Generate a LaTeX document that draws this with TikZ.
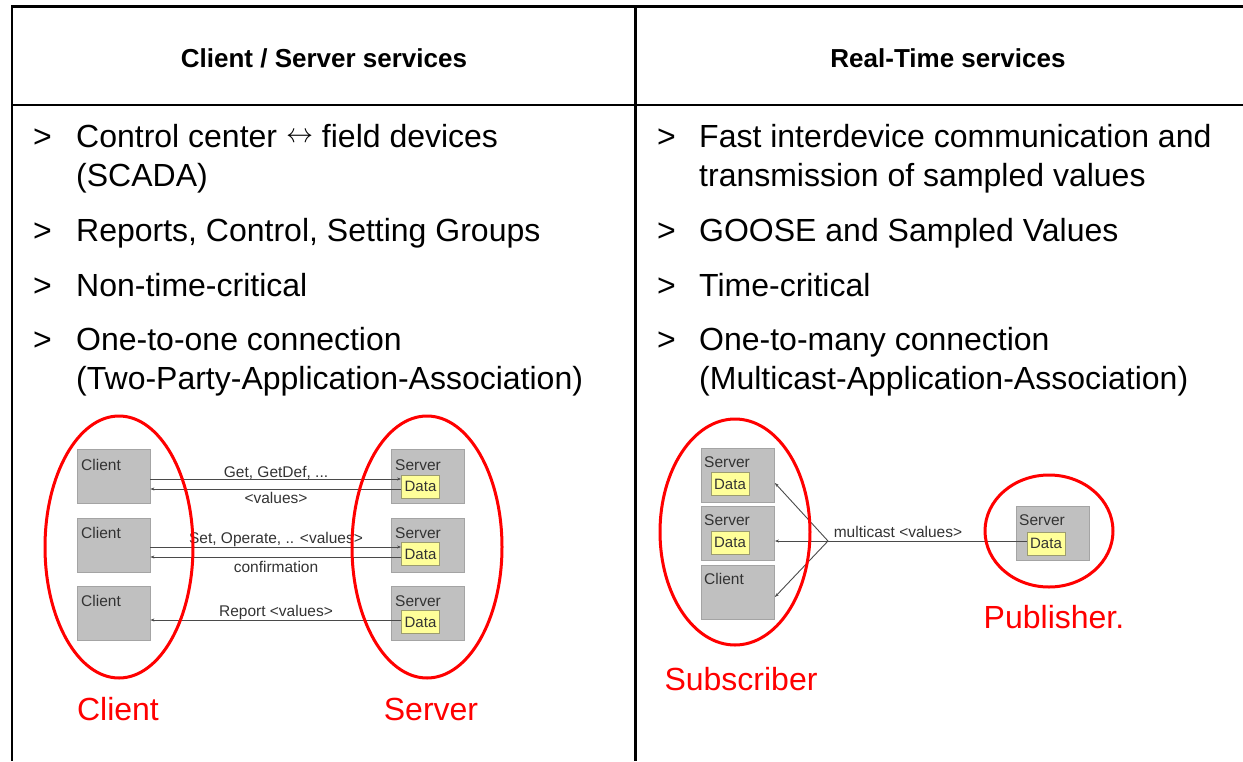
\documentclass[tikz,border=0pt]{standalone}
\usepackage{graphicx}
\usepackage{fontspec}
\setmainfont{Liberation Sans}
\usetikzlibrary{arrows.meta}
\definecolor{boxgray}{HTML}{C0C0C0}
\definecolor{boxedge}{HTML}{A4A4A4}
\definecolor{datafill}{HTML}{FFFF99}
\definecolor{dataedge}{HTML}{9C9C70}
\definecolor{linegray}{HTML}{4A4A4A}
\definecolor{txtgray}{HTML}{333333}
\definecolor{redmark}{HTML}{FF0000}
\newcommand{\lrarrowsym}{\raisebox{5pt}{\resizebox{27pt}{!}{$\leftrightarrow$}}}
\tikzset{
  tabline/.style={line width=2.3pt, black},
  headtxt/.style={font=\fontsize{26}{30}\selectfont\bfseries, anchor=base},
  bultxt/.style={font=\fontsize{32}{38}\selectfont, anchor=base west, inner sep=0pt},
  devbox/.style={draw=boxedge, fill=boxgray, line width=0.8pt, minimum width=73pt, minimum height=54pt, inner sep=0pt},
  databox/.style={draw=dataedge, fill=datafill, line width=0.8pt, minimum width=38pt, minimum height=23pt, inner sep=0pt, font=\fontsize{15}{17}\selectfont, text=txtgray},
  boxlbl/.style={font=\fontsize{15.5}{17}\selectfont, text=txtgray, anchor=base west, inner sep=0pt},
  msg/.style={font=\fontsize{15.5}{17}\selectfont, text=txtgray, anchor=base, inner sep=0pt},
  arr/.style={linegray, line width=0.9pt, -{Stealth[length=4pt,width=3pt]}},
  conn/.style={linegray, line width=0.9pt},
  ring/.style={draw=redmark, line width=3pt},
  redlbl/.style={font=\fontsize{32}{38}\selectfont, text=redmark, anchor=base, inner sep=0pt}
}
\begin{document}
\begin{tikzpicture}[x=1pt,y=-1pt]
\useasboundingbox (0,0) rectangle (1243,761);
% table
\draw[tabline] (12.2,6.5) -- (1243,6.5);
\draw[tabline] (12.2,105.3) -- (1243,105.3);
\draw[tabline] (12.2,5.3) -- (12.2,761);
\draw[tabline] (635.5,5.3) -- (635.5,761);
\node[headtxt] (h1) at (324,67) {Client / Server services};
\node[headtxt] (h2) at (948,67) {Real-Time services};
% left bullets
\node[bultxt] (lb1) at (33,147) {>};
\node[bultxt] (lt1) at (76,147) {Control center \lrarrowsym\ field devices};
\node[bultxt] (lt1b) at (76,186) {(SCADA)};
\node[bultxt] (lb2) at (33,241) {>};
\node[bultxt] (lt2) at (76,241) {Reports, Control, Setting Groups};
\node[bultxt] (lb3) at (33,296) {>};
\node[bultxt] (lt3) at (76,296) {Non-time-critical};
\node[bultxt] (lb4) at (33,350) {>};
\node[bultxt] (lt4) at (76,350) {One-to-one connection};
\node[bultxt] (lt4b) at (76,389) {(Two-Party-Application-Association)};
% right bullets
\node[bultxt] (rb1) at (657,147) {>};
\node[bultxt] (rt1) at (699,147) {Fast interdevice communication and};
\node[bultxt] (rt1b) at (699,186) {transmission of sampled values};
\node[bultxt] (rb2) at (657,241) {>};
\node[bultxt] (rt2) at (699,241) {GOOSE and Sampled Values};
\node[bultxt] (rb3) at (657,296) {>};
\node[bultxt] (rt3) at (699,296) {Time-critical};
\node[bultxt] (rb4) at (657,350) {>};
\node[bultxt] (rt4) at (699,350) {One-to-many connection};
\node[bultxt] (rt4b) at (699,389) {(Multicast-Application-Association)};
% ---------- client/server diagram
\node[devbox] (c1) at (113.5,476.5) {};
\node[devbox] (c2) at (113.5,545) {};
\node[devbox] (c3) at (113.5,613) {};
\node[boxlbl] (c1l) at (81,470) {Client};
\node[boxlbl] (c2l) at (81,538) {Client};
\node[boxlbl] (c3l) at (81,606) {Client};
\node[devbox] (s1) at (428,476.5) {};
\node[devbox] (s2) at (428,545) {};
\node[devbox] (s3) at (428,613) {};
\node[boxlbl] (s1l) at (395,470) {Server};
\node[boxlbl] (s2l) at (395,538) {Server};
\node[boxlbl] (s3l) at (395,606) {Server};
\node[databox] (d1) at (420.5,486.5) {Data};
\node[databox] (d2) at (420.5,554) {Data};
\node[databox] (d3) at (420.5,622) {Data};
\draw[arr] ([yshift=-2.5pt]c1.east) -- ([yshift=7.5pt]d1.west);
\draw[arr] ([yshift=-2.5pt]d1.west) -- ([yshift=-12.5pt]c1.east);
\draw[arr] ([yshift=-2pt]c2.east) -- ([yshift=7pt]d2.west);
\draw[arr] ([yshift=-3pt]d2.west) -- ([yshift=-12pt]c2.east);
\draw[arr] ([yshift=2pt]d3.west) -- ([yshift=-7pt]c3.east);
\node[msg] (m1) at (276,477) {Get, GetDef, ...};
\node[msg] (m2) at (276,503) {<values>};
\node[msg] (m3) at (276,543) {Set, Operate, .. <values>};
\node[msg] (m4) at (276,572) {confirmation};
\node[msg] (m5) at (276,616) {Report <values>};
\draw[ring] (119,547) ellipse [x radius=74, y radius=131];
\draw[ring] (427,547) ellipse [x radius=75, y radius=131];
\node[redlbl] (lc) at (118,720) {Client};
\node[redlbl] (ls) at (431,720) {Server};
% ---------- real-time diagram
\node[devbox] (r1) at (738,475) {};
\node[devbox] (r2) at (738,533.5) {};
\node[devbox] (r3) at (738,592) {};
\node[boxlbl] (r1l) at (704,467) {Server};
\node[boxlbl] (r2l) at (704,525.5) {Server};
\node[boxlbl] (r3l) at (704,584) {Client};
\node[databox] (rd1) at (730,484) {Data};
\node[databox] (rd2) at (730,542.5) {Data};
\node[devbox] (p) at (1053,533.5) {};
\node[boxlbl] (pl) at (1019,525.5) {Server};
\node[databox] (pd) at (1046,543.5) {Data};
\coordinate (fan) at (828,541);
\draw[conn] ([yshift=2.5pt]pd.west) -- (fan);
\draw[arr] (fan) -- ([yshift=-8pt]r1.east);
\draw[arr] (fan) -- ([yshift=-7.5pt]r2.east);
\draw[arr] (fan) -- ([yshift=-5pt]r3.east);
\node[msg] (mc) at (898,537) {multicast <values>};
\draw[ring] (735,532) ellipse [x radius=75, y radius=113];
\draw[ring] (1049,531) ellipse [x radius=64, y radius=56];
\node[redlbl] (lsub) at (741,690) {Subscriber};
\node[redlbl] (lpub) at (1054,628) {Publisher.};
\end{tikzpicture}
\end{document}
